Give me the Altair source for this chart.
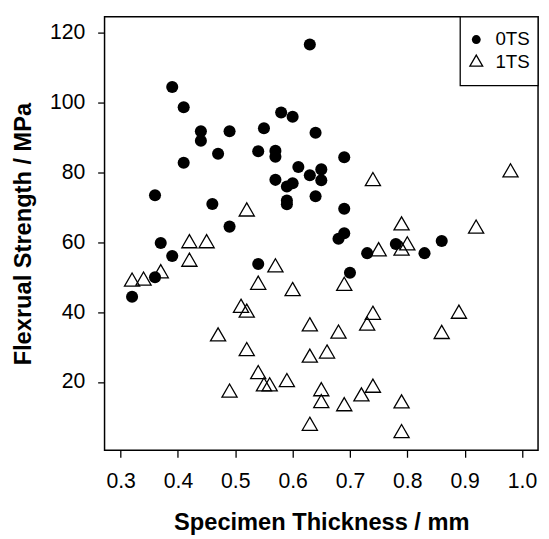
import altair as alt
import pandas as pd

# 0TS (filled circles)
ts0_thickness = [0.63, 0.39, 0.41, 0.44, 0.44, 0.49, 0.55, 0.58, 0.60, 0.64,
                 0.47, 0.54, 0.57, 0.57, 0.41, 0.61, 0.63, 0.65, 0.65, 0.57,
                 0.60, 0.59, 0.64, 0.59, 0.59, 0.36, 0.46, 0.49, 0.37, 0.69,
                 0.69, 0.68, 0.69, 0.86, 0.78, 0.73, 0.83, 0.70, 0.39, 0.54,
                 0.36, 0.32]
ts0_strength = [116.7, 104.5, 98.7, 91.8, 89.1, 91.8, 92.7, 97.2, 96.0, 91.4,
                85.4, 86.1, 86.2, 84.5, 82.8, 81.6, 79.2, 80.9, 77.8, 77.9,
                76.9, 76.0, 73.2, 72.0, 70.9, 73.5, 71.0, 64.5, 59.8, 84.4,
                69.6, 61.0, 62.6, 60.4, 59.5, 56.9, 56.9, 51.3, 56.1, 53.8,
                50.0, 44.4]

# 1TS (open triangles)
ts1_thickness = [0.74, 0.98, 0.52, 0.79, 0.92, 0.42, 0.45, 0.75, 0.79, 0.80,
                 0.42, 0.57, 0.37, 0.32, 0.34, 0.54, 0.69, 0.60, 0.51, 0.52,
                 0.74, 0.89, 0.73, 0.63, 0.47, 0.86, 0.68, 0.52, 0.66, 0.63,
                 0.54, 0.55, 0.56, 0.59, 0.49, 0.65, 0.65, 0.74, 0.72, 0.69,
                 0.79, 0.79, 0.63]
ts1_strength = [77.5, 80.0, 68.8, 64.8, 63.9, 59.7, 59.7, 57.4, 57.6, 59.1,
                54.4, 52.8, 51.1, 48.7, 49.0, 47.8, 47.5, 46.0, 41.2, 39.8,
                39.2, 39.5, 36.1, 35.9, 33.0, 33.7, 33.8, 28.8, 28.1, 26.9,
                22.2, 18.7, 18.7, 19.9, 16.9, 17.3, 13.9, 18.3, 15.8, 13.0,
                13.8, 5.3, 7.4]

x_ticks = [0.3, 0.4, 0.5, 0.6, 0.7, 0.8, 0.9, 1.0]
y_ticks = [20, 40, 60, 80, 100, 120]
legend_labels = ["0TS", "1TS"]

FONT = "Liberation Sans"
TRI = "M0,-1L0.866,0.5L-0.866,0.5Z"

df0 = pd.DataFrame({"t": ts0_thickness, "s": ts0_strength})
df1 = pd.DataFrame({"t": ts1_thickness, "s": ts1_strength})

x_enc = alt.X("t:Q", scale=alt.Scale(domain=[0.272, 1.028], nice=False, zero=False),
              axis=alt.Axis(values=x_ticks, format=".1f", title="Specimen Thickness / mm",
                            grid=False, domain=False, tickSize=7, tickWidth=1.3, tickColor="black",
                            labelFont=FONT, labelFontSize=21.5, labelColor="black", labelPadding=14,
                            titleFont=FONT, titleFontSize=24, titleFontWeight="bold", titleColor="black",
                            titleBaseline="alphabetic", titleY=80))
y_enc = alt.Y("s:Q", scale=alt.Scale(domain=[0.4, 124.6], nice=False, zero=False),
              axis=alt.Axis(values=y_ticks, title="Flexrual Strength / MPa",
                            grid=False, domain=False, tickSize=7, tickWidth=1.3, tickColor="black",
                            labelFont=FONT, labelFontSize=21.5, labelColor="black", labelPadding=13,
                            titleFont=FONT, titleFontSize=24, titleFontWeight="bold", titleColor="black",
                            titleAngle=-90, titleBaseline="alphabetic", titleX=-75, titleY=220))

circles = alt.Chart(df0).mark_point(shape="circle", filled=True, color="black",
                                    opacity=1, size=150).encode(x=x_enc, y=y_enc)
triangles = alt.Chart(df1).mark_point(shape=TRI, filled=False, color="black", opacity=1,
                                      size=316, strokeWidth=1.3).encode(x="t:Q", y="s:Q")

leg_box = alt.Chart(pd.DataFrame({"label": ["box"]})).mark_rect(
    fill="white", stroke="black", strokeWidth=1.3).encode(
    x=alt.value(361), x2=alt.value(440), y=alt.value(0), y2=alt.value(69.7))
leg_c = alt.Chart(pd.DataFrame({"label": [legend_labels[0]]})).mark_point(
    shape="circle", filled=True, color="black", opacity=1, size=81).encode(
    x=alt.value(377.3), y=alt.value(23))
leg_t = alt.Chart(pd.DataFrame({"label": [legend_labels[1]]})).mark_point(
    shape=TRI, filled=False, color="black", opacity=1, size=225, strokeWidth=1.3).encode(
    x=alt.value(377.3), y=alt.value(46.3))
leg_txt0 = alt.Chart(pd.DataFrame({"label": [legend_labels[0]]})).mark_text(
    align="left", baseline="middle", font=FONT, fontSize=19, color="black").encode(
    x=alt.value(396.7), y=alt.value(23), text="label:N")
leg_txt1 = alt.Chart(pd.DataFrame({"label": [legend_labels[1]]})).mark_text(
    align="left", baseline="middle", font=FONT, fontSize=19, color="black").encode(
    x=alt.value(396.7), y=alt.value(46.3), text="label:N")

chart = alt.layer(circles, triangles, leg_box, leg_c, leg_t, leg_txt0, leg_txt1).properties(
    width=440, height=440,
    autosize=alt.AutoSizeParams(type="none"),
    padding={"left": 98, "top": 5, "right": 3, "bottom": 86},
).configure_view(stroke="black", strokeWidth=1.5)

chart.save("out.html", embed_options={"renderer": "svg", "actions": False})
